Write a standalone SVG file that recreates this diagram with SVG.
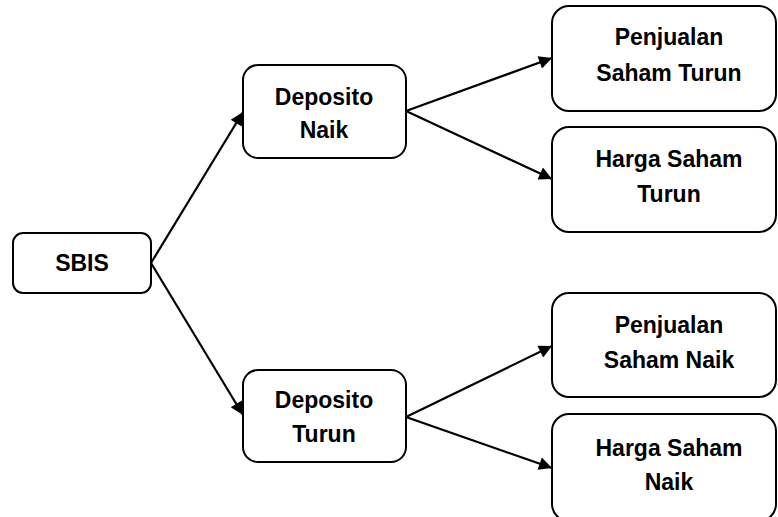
<svg xmlns="http://www.w3.org/2000/svg" width="778" height="517" viewBox="0 0 778 517">
<style>
.box{fill:#fff;stroke:#000;stroke-width:2}
.lbl{font-family:"Liberation Sans",Arial,sans-serif;font-weight:bold;font-size:23px;fill:#000;text-anchor:middle}
.conn{stroke:#000;stroke-width:2.2;fill:none;marker-end:url(#arr)}
</style>
<defs>
<marker id="arr" viewBox="0 0 10 10" refX="10" refY="5" markerWidth="15" markerHeight="13" markerUnits="userSpaceOnUse" orient="auto">
<path d="M0,0 L10,5 L0,10 z" fill="#000"/>
</marker>
</defs>
<rect width="778" height="517" fill="#fff"/>
<g id="connectors">
<line class="conn" x1="151" y1="263" x2="243" y2="112"/>
<line class="conn" x1="151" y1="263" x2="243" y2="415"/>
<line class="conn" x1="406" y1="111" x2="552" y2="58"/>
<line class="conn" x1="406" y1="111" x2="552" y2="179"/>
<line class="conn" x1="406" y1="417" x2="552" y2="346"/>
<line class="conn" x1="406" y1="417" x2="552" y2="468"/>
</g>
<g id="sbis">
<rect class="box" x="13" y="233" width="138" height="60" rx="10"/>
<text class="lbl" x="82" y="271">SBIS</text>
</g>
<g id="deposito-naik">
<rect class="box" x="243" y="65" width="163" height="93" rx="15"/>
<text class="lbl" x="324" y="105">Deposito</text>
<text class="lbl" x="324" y="138">Naik</text>
</g>
<g id="deposito-turun">
<rect class="box" x="243" y="370" width="163" height="92" rx="15"/>
<text class="lbl" x="324" y="408">Deposito</text>
<text class="lbl" x="324" y="442">Turun</text>
</g>
<g id="penjualan-saham-turun">
<rect class="box" x="552" y="6" width="224" height="105" rx="17"/>
<text class="lbl" x="669" y="45">Penjualan</text>
<text class="lbl" x="669" y="81">Saham Turun</text>
</g>
<g id="harga-saham-turun">
<rect class="box" x="552" y="127" width="224" height="105" rx="17"/>
<text class="lbl" x="669" y="167">Harga Saham</text>
<text class="lbl" x="669" y="202">Turun</text>
</g>
<g id="penjualan-saham-naik">
<rect class="box" x="552" y="293" width="224" height="104" rx="17"/>
<text class="lbl" x="669" y="333">Penjualan</text>
<text class="lbl" x="669" y="368">Saham Naik</text>
</g>
<g id="harga-saham-naik">
<rect class="box" x="552" y="414" width="224" height="107" rx="17"/>
<text class="lbl" x="669" y="456">Harga Saham</text>
<text class="lbl" x="669" y="490">Naik</text>
</g>
</svg>
